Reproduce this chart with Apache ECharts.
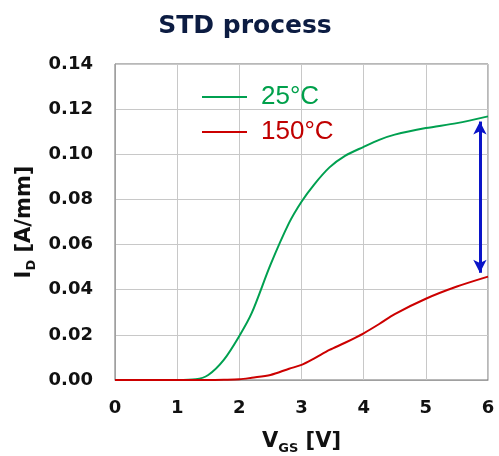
<!DOCTYPE html>
<html><head><meta charset="utf-8">
<script src="https://cdn.jsdelivr.net/npm/echarts@6/dist/echarts.min.js"></script>
<style>html,body{margin:0;padding:0;background:#fff}#c{width:499px;height:456px}</style>
</head><body><div id="c"></div>
<script>
const vgs = [0, 0.5, 1, 1.3, 1.5, 1.75, 2, 2.2, 2.5, 2.8, 3, 3.2, 3.45, 3.7, 4, 4.25, 4.5, 5, 5.5, 6];
const id25 = [0, 0, 0, 0.0003, 0.0022, 0.0089, 0.0195, 0.0297, 0.051, 0.0696, 0.079, 0.0865, 0.0942, 0.0993, 0.1033, 0.1064, 0.1087, 0.1116, 0.1138, 0.1168];
const id150 = [0, 0, 0, 0, 0, 0.0001, 0.0003, 0.001, 0.0022, 0.005, 0.0067, 0.0095, 0.0133, 0.0165, 0.0207, 0.0248, 0.0292, 0.036, 0.0414, 0.0458];
const xTicks = [0, 1, 2, 3, 4, 5, 6];
const yTicks = [0, 0.02, 0.04, 0.06, 0.08, 0.10, 0.12, 0.14];
const arrowV = 5.87, arrowTop = 0.1145, arrowBottom = 0.0475;

const ch = echarts.init(document.getElementById('c'), null, {renderer: 'canvas'});
const bold = '"DejaVu Sans", sans-serif';
const reg = '"Liberation Sans", Arial, sans-serif';
const nameRich = {
  a: {fontFamily: bold, fontSize: 21, fontWeight: 'bold', color: '#111', verticalAlign: 'bottom', lineHeight: 24},
  b: {fontFamily: bold, fontSize: 13, fontWeight: 'bold', color: '#111', verticalAlign: 'bottom', lineHeight: 24, padding: [0, 0, -3, 0]}
};
ch.setOption({
  animation: false,
  title: {text: 'STD process', left: 240, top: 9, textAlign: 'center',
    textStyle: {fontFamily: bold, fontSize: 25, fontWeight: 'bold', color: '#0c1c42'}},
  grid: {left: 115, right: 11, top: 64, bottom: 76, show: true, borderColor: '#707070', borderWidth: 1,
    containLabel: false, outerBoundsMode: 'none'},
  legend: {left: 202, top: 84, padding: 0, orient: 'vertical', itemWidth: 45, itemHeight: 2, itemGap: 9,
    icon: 'rect',
    textStyle: {fontFamily: reg, fontSize: 26, padding: [0, 0, 0, 9]},
    data: [{name: '25°C', textStyle: {color: '#00a04b'}}, {name: '150°C', textStyle: {color: '#c00000'}}]},
  xAxis: {type: 'value', min: xTicks[0], max: xTicks[xTicks.length - 1], interval: 1,
    axisLine: {lineStyle: {color: '#a0a0a0'}}, axisTick: {show: false},
    splitLine: {lineStyle: {color: '#c8c8c8', width: 1}},
    axisLabel: {fontFamily: bold, fontSize: 18, fontWeight: 'bold', color: '#111', margin: 19},
    name: '{a|V}{b|GS}{a| [V]}', nameLocation: 'middle', nameGap: 48,
    nameTextStyle: {rich: nameRich}},
  yAxis: {type: 'value', min: yTicks[0], max: yTicks[yTicks.length - 1], interval: 0.02,
    axisLine: {show: true, lineStyle: {color: '#a0a0a0'}}, axisTick: {show: false},
    splitLine: {lineStyle: {color: '#c8c8c8', width: 1}},
    axisLabel: {fontFamily: bold, fontSize: 18, fontWeight: 'bold', color: '#111', margin: 22,
      formatter: v => v.toFixed(2)},
    name: '{a|I}{b|D}{a| [A/mm]}', nameLocation: 'middle', nameGap: 78, nameRotate: 90,
    nameTextStyle: {rich: nameRich}},
  series: [
    {name: '25°C', type: 'line', smooth: 0.3, symbol: 'none', data: vgs.map((v, i) => [v, id25[i]]),
      lineStyle: {color: '#00a050', width: 2}, itemStyle: {color: '#00a050'},
      markLine: {silent: true, symbol: ['arrow', 'arrow'], symbolSize: [10, 13],
        lineStyle: {color: '#0a14c8', width: 3, type: 'solid'}, label: {show: false},
        data: [[{coord: [arrowV, arrowTop]}, {coord: [arrowV, arrowBottom]}]]}},
    {name: '150°C', type: 'line', smooth: 0.3, symbol: 'none', data: vgs.map((v, i) => [v, id150[i]]),
      lineStyle: {color: '#cc0000', width: 2}, itemStyle: {color: '#cc0000'}}
  ]
});
</script></body></html>
